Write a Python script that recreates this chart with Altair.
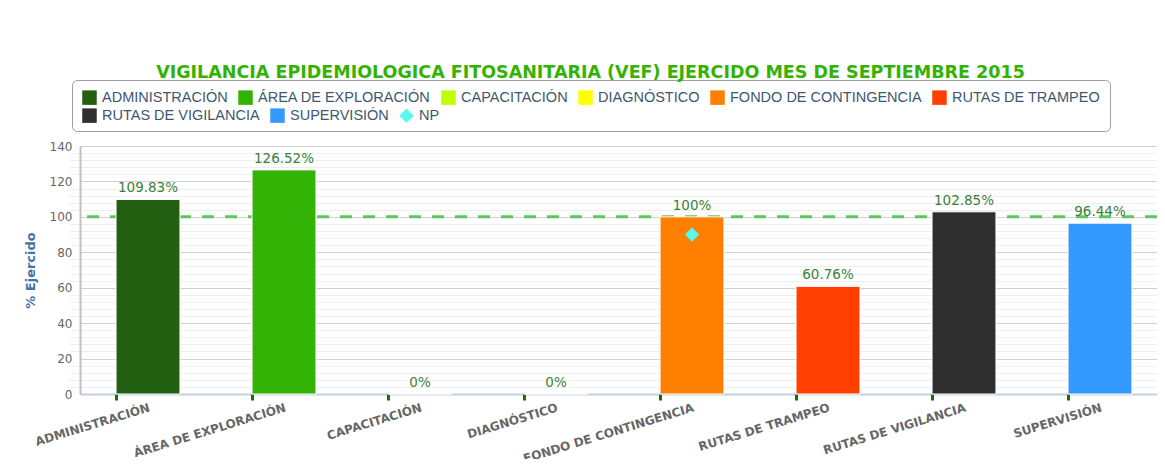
import altair as alt
import pandas as pd

categories = ["ADMINISTRACIÓN", "ÁREA DE EXPLORACIÓN", "CAPACITACIÓN", "DIAGNÓSTICO",
              "FONDO DE CONTINGENCIA", "RUTAS DE TRAMPEO", "RUTAS DE VIGILANCIA", "SUPERVISIÓN"]
values = [109.83, 126.52, 0, 0, 100, 60.76, 102.85, 96.44]
bar_colors = ["#225f10", "#33b306", "#bfff00", "#ffff00", "#ff8000", "#ff4000", "#2f2f2f", "#3399ff"]

np_category = ["FONDO DE CONTINGENCIA"]
np_values = [90]
np_color = "#55fbee"

target_values = [100]
y_ticks = [0, 20, 40, 60, 80, 100, 120, 140]
minor_ticks = [v for v in range(0, 141, 4) if v % 20 != 0]

bars_df = pd.DataFrame({
    "cat": categories,
    "value": values,
    "label": [f"{v:g}%" for v in values],
})
np_df = pd.DataFrame({"cat": np_category, "value": np_values, "series": ["NP"]})
target_df = pd.DataFrame({"target": target_values})

legend_domain = categories + ["NP"]
legend_range = bar_colors + [np_color]
legend_row1 = legend_domain[:6]
legend_row2 = legend_domain[6:]

x_scale = alt.Scale(domain=categories, range=[0, 1088], paddingInner=0.53, paddingOuter=0.265)
y_scale = alt.Scale(domain=[0, 140], nice=False)
color_scale = alt.Scale(domain=legend_domain, range=legend_range)
# same mapping, listed in another order so the two legends stay separate
fill_scale = alt.Scale(domain=legend_domain[::-1], range=legend_range[::-1])

common_legend = dict(
    orient="none", direction="horizontal",
    symbolSize=210, symbolStrokeWidth=0, symbolOpacity=1,
    labelFont="Liberation Sans", labelFontSize=14.5, labelColor="#3e576f",
    columnPadding=10, labelOffset=5, labelLimit=400,
)

legend_a = alt.Legend(
    values=legend_row1, legendX=-8, legendY=-66, symbolType="square",
    title=" ", titleOrient="bottom", titleFontSize=10, titlePadding=6, titleColor="#ffffff",
    strokeColor="#a0a0a0", cornerRadius=5, padding=10, zindex=0,
    **common_legend,
)
legend_b = alt.Legend(
    values=legend_row2, legendX=2, legendY=-38, title=None, padding=0, zindex=1,
    symbolType={"expr": "datum.value === 'NP' ? 'diamond' : 'square'"},
    **common_legend,
)

target = alt.Chart(target_df).mark_rule(
    strokeDash=[12, 11], strokeWidth=3, color="#5cc85c"
).encode(y=alt.Y("target:Q", scale=y_scale, axis=None))

bars = alt.Chart(bars_df).mark_bar(stroke="#ffffff", strokeWidth=1).encode(
    x=alt.X("cat:N", scale=x_scale, sort=categories, axis=alt.Axis(
        orient="bottom", title=None, labelAngle=-17, labelAlign="right", labelBaseline="top",
        labelFont="DejaVu Sans", labelFontWeight="bold", labelFontSize=12, labelColor="#666666",
        labelPadding=8, labelLimit=400, labelOverlap=False, ticks=False,
        domainColor="#c0d0e0", domainWidth=2, grid=False)),
    y=alt.Y("value:Q", scale=y_scale, axis=alt.Axis(
        orient="left", values=y_ticks, title="% Ejercido", titleColor="#4572a7",
        titleFont="DejaVu Sans", titleFontWeight="bold", titleFontSize=13, titlePadding=12,
        labelFont="DejaVu Sans", labelFontSize=12, labelColor="#666666", labelPadding=8,
        ticks=False, domainColor="#c0c0c0", domainWidth=2,
        grid=True, gridColor="#d0d0d0", gridWidth=1)),
    color=alt.Color("cat:N", scale=color_scale, legend=legend_a),
)

labels = alt.Chart(bars_df).mark_text(
    baseline="bottom", dy=-4, font="DejaVu Sans", fontSize=13.5, color="#3a7f3a"
).encode(
    x=alt.X("cat:N", scale=x_scale, sort=categories, axis=None),
    y=alt.Y("value:Q", scale=y_scale, axis=None),
    text="label:N",
)

np_points = alt.Chart(np_df).mark_point(shape="diamond", filled=True, size=200, opacity=1).encode(
    x=alt.X("cat:N", scale=x_scale, sort=categories, axis=alt.Axis(
        orient="bottom", title=None, labels=False, domain=False, grid=False,
        ticks=True, bandPosition=0, tickColor="#1e6b0a", tickWidth=3, tickSize=6)),
    y=alt.Y("value:Q", scale=y_scale, axis=alt.Axis(
        orient="right", title=None, labels=False, domain=False, ticks=False,
        values=minor_ticks, grid=True, gridColor="#efefef", gridWidth=1)),
    fill=alt.Fill("series:N", scale=fill_scale, legend=legend_b),
)

chart = alt.layer(target, bars, labels, np_points).resolve_axis(
    x="independent", y="independent"
).properties(
    width=1077, height=248,
    title=alt.TitleParams(
        "VIGILANCIA EPIDEMIOLOGICA FITOSANITARIA (VEF) EJERCIDO MES DE SEPTIEMBRE 2015",
        anchor="middle", dx=-28, offset=-2, font="DejaVu Sans", fontWeight="bold",
        fontSize=17.5, color="#33b300"),
    autosize=alt.AutoSizeParams(type="none"),
    padding={"left": 72, "top": 138, "right": 0, "bottom": 65},
).configure_view(stroke=None)

chart.save("out.html", embed_options={"renderer": "svg", "actions": False})
